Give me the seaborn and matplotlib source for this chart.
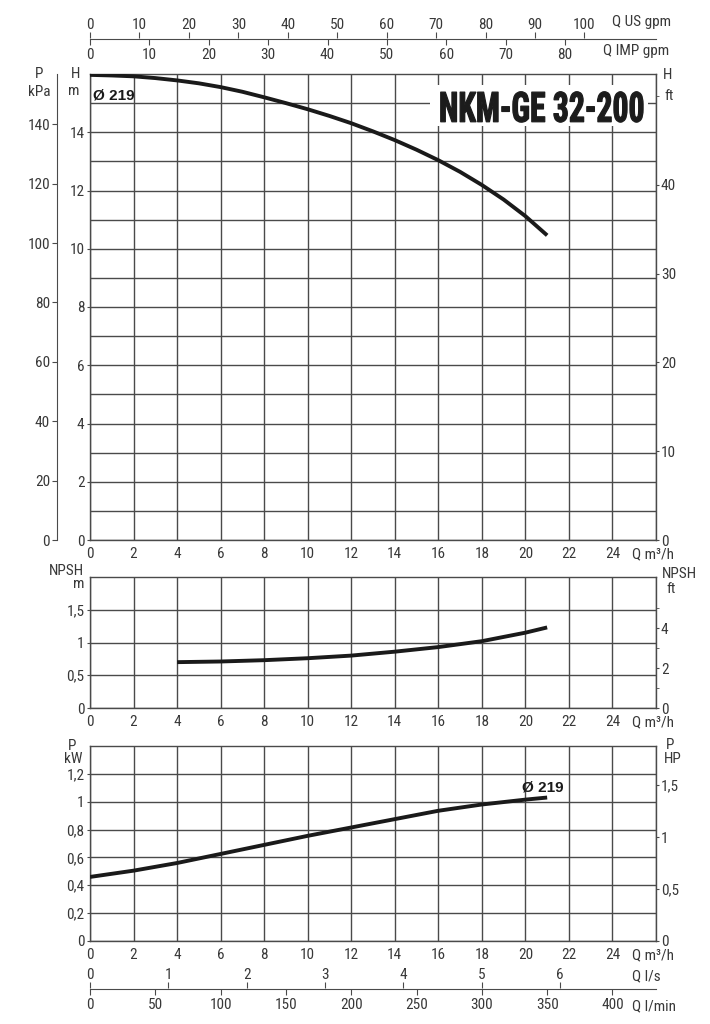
import seaborn as sns
import matplotlib.pyplot as plt
import matplotlib.patheffects as pe
from matplotlib.patches import Rectangle
from matplotlib.transforms import Affine2D

# pump curve NKM-GE 32-200, impeller 219 mm
q_head = list(range(0, 22))
head_m = [15.97, 15.95, 15.92, 15.86, 15.78, 15.68, 15.55, 15.39, 15.2, 15.0, 14.79,
          14.56, 14.31, 14.03, 13.73, 13.4, 13.04, 12.64, 12.19, 11.69, 11.12, 10.46]

q_npsh = [4, 6, 8, 10, 12, 14, 16, 18, 20, 21]
npsh_m = [0.70, 0.71, 0.73, 0.76, 0.80, 0.86, 0.93, 1.02, 1.15, 1.23]

q_pow = [0, 2, 4, 6, 8, 10, 12, 14, 16, 18, 20, 21]
pow_kw = [0.46, 0.505, 0.56, 0.625, 0.69, 0.755, 0.815, 0.875, 0.935, 0.98, 1.015, 1.03]

q_ticks = list(range(0, 26, 2))
us_gpm_ticks = list(range(0, 101, 10))
imp_gpm_ticks = list(range(0, 81, 10))
ls_ticks = [0, 1, 2, 3, 4, 5, 6]
lmin_ticks = list(range(0, 401, 50))
head_ticks = list(range(0, 15, 2))
kpa_ticks = list(range(0, 141, 20))
ft_ticks = [0, 10, 20, 30, 40]
ft_minor = [50]
npsh_ticks = [0, 0.5, 1, 1.5]
npsh_ft_ticks = [0, 2, 4]
npsh_ft_minor = [1, 3, 5]
kw_ticks = [0, 0.2, 0.4, 0.6, 0.8, 1.0, 1.2]
hp_ticks = [0, 0.5, 1, 1.5]
model = 'NKM-GE 32-200'
impeller = 'Ø 219'

sns.set_style('white')
plt.rcParams['font.family'] = ['Roboto Condensed', 'Liberation Sans Narrow',
                               'Liberation Sans', 'DejaVu Sans']

FS = 11
TXT = '#383838'
GRID = '#4a4a4a'
CURVE = '#1a1a1a'
FW, FH = 710, 1024
L, W = 90 / FW, 566 / FW
QMAX = 26


def px(x, y):
    return x / FW, 1 - y / FH


def comma(v):
    return f'{v:g}'.replace('.', ',')


def ftext(x, y, s, **kw):
    kw.setdefault('ha', 'center')
    kw.setdefault('va', 'center')
    kw.setdefault('fontsize', FS)
    kw.setdefault('color', TXT)
    fig.text(*px(x, y), s, **kw)


def panel(top, bot, ymax, yticks, minor=None):
    ax = fig.add_axes([L, 1 - bot / FH, W, (bot - top) / FH])
    ax.set_xlim(0, QMAX)
    ax.set_ylim(0, ymax)
    ax.set_xticks(q_ticks + [QMAX])
    ax.set_xticklabels([str(q) for q in q_ticks] + [''])
    ax.set_yticks(yticks)
    ax.set_yticklabels([comma(v) for v in yticks])
    if minor:
        ax.set_yticks(minor, minor=True)
    ax.grid(True, which='both', color=GRID, lw=1.0)
    for s in ax.spines.values():
        s.set_color(GRID)
        s.set_linewidth(1.0)
    ax.tick_params(axis='x', length=2, pad=3.0, labelsize=FS, colors=GRID, labelcolor=TXT)
    ax.tick_params(axis='y', length=2.5, pad=1.5, labelsize=FS, colors=GRID, labelcolor=TXT)
    ax.tick_params(which='minor', length=0)
    ax.annotate('Q m³/h', xy=((632 - 90) / 566, 0), xycoords='axes fraction',
                xytext=(0, -5.0), textcoords='offset points',
                ha='left', va='top', fontsize=FS, color=TXT)
    return ax


def right_axis(ax, factor, ticks, minor=None):
    r = ax.twinx()
    lo, hi = ax.get_ylim()
    r.set_ylim(lo / factor, hi / factor)
    r.set_yticks(ticks)
    r.set_yticklabels([comma(v) for v in ticks])
    if minor:
        r.set_yticks(minor, minor=True)
    for s in r.spines.values():
        s.set_visible(False)
    r.tick_params(axis='y', which='both', length=2.5, pad=1, labelsize=FS,
                  colors=GRID, labelcolor=TXT)
    return r


def flow_scale(y_line, upper_max, upper_ticks, lower_max, lower_ticks):
    up = fig.add_axes([L, 1 - y_line / FH, W, 0.0008])
    lo = up.twiny()
    up.set_xlim(0, upper_max)
    up.set_yticks([])
    for side in ['top', 'left', 'right']:
        up.spines[side].set_visible(False)
    up.spines['bottom'].set_color(GRID)
    up.xaxis.tick_top()
    up.set_xticks(upper_ticks)
    up.set_xticklabels([str(t) for t in upper_ticks])
    up.tick_params(axis='x', direction='out', length=4, pad=0.5, labelsize=FS,
                   colors=GRID, labelcolor=TXT)
    lo.set_xlim(0, lower_max)
    for s in lo.spines.values():
        s.set_visible(False)
    lo.xaxis.tick_bottom()
    lo.set_xticks(lower_ticks)
    lo.set_xticklabels([str(t) for t in lower_ticks])
    lo.tick_params(axis='x', direction='out', length=4, pad=2.5, labelsize=FS,
                   colors=GRID, labelcolor=TXT)
    return up, lo


class Squeeze(pe.AbstractPathEffect):
    # rescales the glyphs around the text anchor (centre, baseline)
    def __init__(self, txt, sx=1.0, sy=1.0, lw=0.0):
        super().__init__()
        self.txt, self.sx, self.sy, self.lw = txt, sx, sy, lw

    def draw_path(self, renderer, gc, tpath, affine, rgbFace=None):
        cx, cy = self.txt.get_transform().transform(self.txt.get_position())
        t = affine + (Affine2D().translate(-cx, -cy)
                      .scale(self.sx, self.sy).translate(cx, cy))
        gc0 = renderer.new_gc()
        gc0.copy_properties(gc)
        if self.lw:
            gc0.set_linewidth(self.lw)
            gc0.set_foreground(rgbFace)
        renderer.draw_path(gc0, tpath, t, rgbFace)
        gc0.restore()


fig = plt.figure(figsize=(FW / 100, FH / 100), dpi=100)

# head panel
ax1 = panel(74, 540, 16, head_ticks, minor=list(range(1, 17, 2)))
sns.lineplot(x=q_head, y=head_m, ax=ax1, color=CURVE, lw=2.8, zorder=4,
             solid_capstyle='butt')
ax1.set_xlabel('')
ax1.set_ylabel('')

right_axis(ax1, 0.3048, ft_ticks, ft_minor)

kpa = ax1.twinx()
kpa.set_ylim(0, 16 * 9.81)
kpa.yaxis.tick_left()
kpa.spines['left'].set_position(('axes', (57 - 90) / 566))
for side in ['right', 'top', 'bottom']:
    kpa.spines[side].set_visible(False)
kpa.spines['left'].set_color(GRID)
kpa.set_yticks(kpa_ticks)
kpa.set_yticklabels([str(t) for t in kpa_ticks])
kpa.tick_params(axis='y', length=3.5, pad=1.5, labelsize=FS, colors=GRID, labelcolor=TXT)

ax1.add_patch(Rectangle((15.62, 14.2), 10.0, 1.42, facecolor='white',
                        edgecolor='none', zorder=2.6))
title = ax1.text(20.76, 14.36, model, ha='center', va='baseline', fontsize=24,
                 fontweight='bold', color='#1c1c1c', zorder=3,
                 family=['Roboto Condensed', 'Liberation Sans'])
ax1.text(0.13, 15.25, impeller, ha='left', va='center', fontsize=11,
         fontweight='bold', color=CURVE, family=['Liberation Sans', 'DejaVu Sans'])

ftext(39, 74, 'P')
ftext(39, 92, 'kPa')
ftext(76, 74, 'H')
ftext(74, 91, 'm')
ftext(668, 75, 'H')
ftext(664, 96, 'ft', ha='left')

# NPSH panel
ax2 = panel(577, 708, 2.0, npsh_ticks)
sns.lineplot(x=q_npsh, y=npsh_m, ax=ax2, color=CURVE, lw=2.8, zorder=4,
             solid_capstyle='butt')
ax2.set_xlabel('')
ax2.set_ylabel('')
right_axis(ax2, 0.3048, npsh_ft_ticks, npsh_ft_minor)
ftext(84, 571, 'NPSH', ha='right')
ftext(84, 584, 'm', ha='right')
ftext(662, 574, 'NPSH', ha='left')
ftext(666, 589, 'ft', ha='left')

# power panel
ax3 = panel(746, 941, 1.4, kw_ticks)
sns.lineplot(x=q_pow, y=pow_kw, ax=ax3, color=CURVE, lw=2.8, zorder=4,
             solid_capstyle='butt')
ax3.set_xlabel('')
ax3.set_ylabel('')
right_axis(ax3, 0.7457, hp_ticks)
ax3.text(19.85, 1.105, impeller, ha='left', va='center', fontsize=11,
         fontweight='bold', color=CURVE, family=['Liberation Sans', 'DejaVu Sans'])
ftext(72, 746, 'P')
ftext(73, 759, 'kW')
ftext(670, 745, 'P')
ftext(673, 759, 'HP')

# flow scales top and bottom
flow_scale(39, QMAX / 0.2271, us_gpm_ticks, QMAX / 0.2728, imp_gpm_ticks)
ftext(612, 22, 'Q US gpm', ha='left')
ftext(603, 51, 'Q IMP gpm', ha='left')

flow_scale(989, QMAX / 3.6, ls_ticks, QMAX / 0.06, lmin_ticks)
ftext(632, 976, 'Q l/s', ha='left')
ftext(632, 1006, 'Q l/min', ha='left')

# stretch title to the tall condensed shape of the original
r = fig.canvas.get_renderer()
w = title.get_window_extent(renderer=r).width
title.set_path_effects([Squeeze(title, sx=206 / w, sy=30 / 24, lw=0.9)])

fig.savefig('out.png', dpi=100)
